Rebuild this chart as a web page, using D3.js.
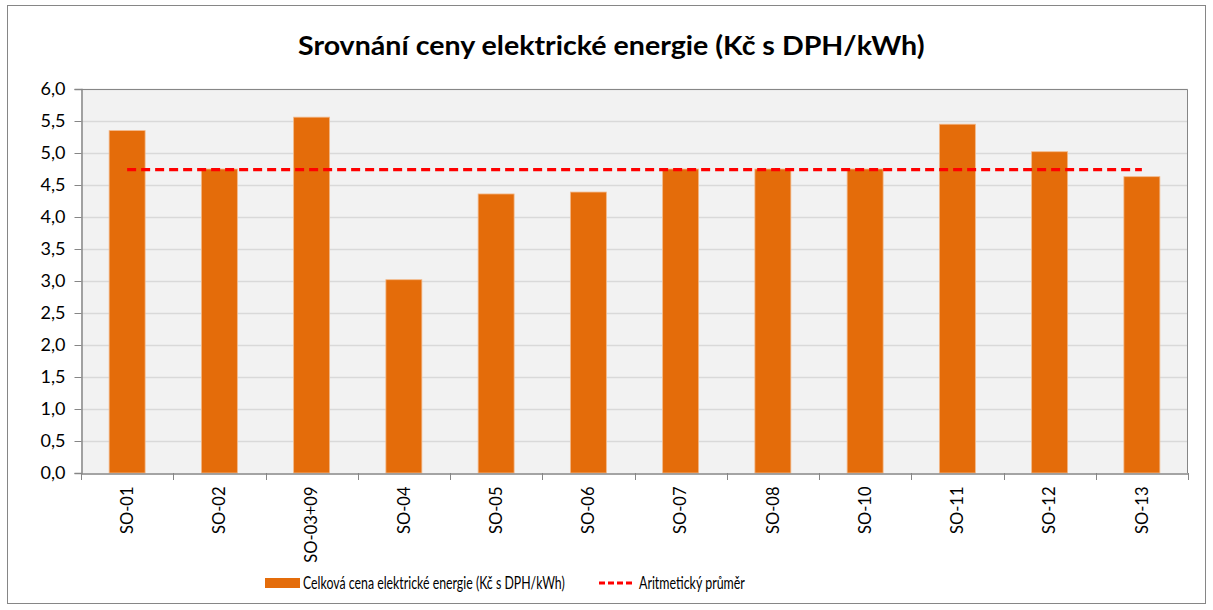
<!DOCTYPE html>
<html>
<head>
<meta charset="utf-8">
<script src="https://cdn.jsdelivr.net/npm/d3@7"></script>
<style>
  body { margin: 0; background: #fff; }
  text { font-family: Lato, "Open Sans", sans-serif; }
</style>
</head>
<body>
<script>
// Rozměry SVG
const w = 1213;
const h = 610;

// Data
const categories = ["SO-01", "SO-02", "SO-03+09", "SO-04", "SO-05", "SO-06",
  "SO-07", "SO-08", "SO-10", "SO-11", "SO-12", "SO-13"];
const prices = [5.35, 4.75, 5.56, 3.02, 4.36, 4.39, 4.75, 4.75, 4.75, 5.45, 5.02, 4.63];
const average = [4.74, 4.74, 4.74, 4.74, 4.74, 4.74, 4.74, 4.74, 4.74, 4.74, 4.74, 4.74];
const yTicks = [0, 0.5, 1, 1.5, 2, 2.5, 3, 3.5, 4, 4.5, 5, 5.5, 6];

const title = "Srovnání ceny elektrické energie (Kč s DPH/kWh)";
const seriesName = "Celková cena elektrické energie (Kč s DPH/kWh)";
const avgName = "Aritmetický průměr";

const barColor = "#e46c0a";
const axisColor = "#868686";

// Plocha grafu
const plot = { left: 81, right: 1188, top: 89, bottom: 473 };

const svg = d3.select("body").append("svg").attr("width", w).attr("height", h);

// Text zúžený na danou šířku (Calibri není k dispozici)
function narrowText(parent, x, y, width, str, size, weight) {
  const g = parent.append("g");
  const t = g.append("text")
    .attr("font-size", size + "px")
    .attr("font-weight", weight || "normal")
    .attr("fill", "#000")
    .text(str);
  const k = width / t.node().getComputedTextLength();
  g.attr("transform", "translate(" + x + "," + y + ") scale(" + k + ",1)");
  return g;
}

// Rámeček celého grafu
svg.append("rect")
  .attr("x", 7.5).attr("y", 5.5)
  .attr("width", w - 15).attr("height", h - 12)
  .attr("fill", "#fff").attr("stroke", "#868686").attr("stroke-width", 1);

// Titulek
narrowText(svg, 298, 55, 627, title, 27, "bold");

// Škály
const xScale = d3.scaleBand()
  .domain(categories)
  .range([plot.left, plot.right])
  .paddingInner(0.61)
  .paddingOuter(0.305);

const xBand = d3.scaleBand()
  .domain(categories)
  .range([plot.left, plot.right]);

const yScale = d3.scaleLinear()
  .domain([0, 6])
  .range([plot.bottom, plot.top]);

// Pozadí plochy
svg.append("rect")
  .attr("x", plot.left).attr("y", plot.top)
  .attr("width", plot.right - plot.left)
  .attr("height", plot.bottom - plot.top)
  .attr("fill", "#f2f2f2");

// Mřížka
svg.append("g")
  .selectAll("line")
  .data(yTicks.slice(1))
  .enter()
  .append("line")
  .attr("x1", plot.left).attr("x2", plot.right)
  .attr("y1", d => Math.round(yScale(d)) + 0.5)
  .attr("y2", d => Math.round(yScale(d)) + 0.5)
  .attr("stroke", "#d9d9d9")
  .attr("stroke-width", 1.3);

// Rámeček plochy (nahoře a vpravo)
svg.append("path")
  .attr("d", `M${plot.left},${plot.top + 0.5}H${plot.right - 0.5}V${plot.bottom}`)
  .attr("fill", "none")
  .attr("stroke", axisColor)
  .attr("stroke-width", 1);

// Sloupce
svg.append("g")
  .selectAll("rect")
  .data(prices)
  .enter()
  .append("rect")
  .attr("x", (d, i) => xScale(categories[i]))
  .attr("y", d => yScale(d))
  .attr("width", xScale.bandwidth())
  .attr("height", d => plot.bottom - yScale(d))
  .attr("fill", barColor)
  .attr("stroke", "#f3b98a")
  .attr("stroke-width", 0.8);

// Průměr
const line = d3.line()
  .x((d, i) => xBand(categories[i]) + xBand.bandwidth() / 2)
  .y(d => yScale(d));

svg.append("path")
  .datum(average)
  .attr("d", line)
  .attr("fill", "none")
  .attr("stroke", "#ff0000")
  .attr("stroke-width", 3.2)
  .attr("stroke-dasharray", "9,5");

// Osa y
const yAxis = d3.axisLeft(yScale)
  .tickValues(yTicks)
  .tickSize(7)
  .tickPadding(9)
  .tickFormat(d => d3.format(".1f")(d).replace(".", ","));

const gy = svg.append("g")
  .attr("transform", "translate(" + (plot.left + 0.5) + ",0)")
  .call(yAxis);
gy.select(".domain").attr("stroke", axisColor).attr("stroke-width", 1.5);
gy.selectAll(".tick line").attr("stroke", axisColor);
gy.selectAll(".tick text")
  .attr("font-size", "18px")
  .attr("fill", "#000")
  .attr("font-family", "Lato, sans-serif");

// Osa x
const xAxis = d3.axisBottom(xBand).tickSize(0).tickPadding(0);
const gx = svg.append("g")
  .attr("transform", "translate(0," + (plot.bottom + 0.5) + ")")
  .call(xAxis);
gx.select(".domain").attr("stroke", axisColor).attr("stroke-width", 1.5);
gx.selectAll(".tick text")
  .attr("transform", "rotate(-90)")
  .attr("x", -13)
  .attr("y", 0)
  .attr("dy", "0.35em")
  .attr("text-anchor", "end")
  .attr("font-size", "16.5px")
  .attr("font-family", "Lato, sans-serif")
  .attr("fill", "#000");

// Značky mezi kategoriemi
svg.append("g")
  .selectAll("line")
  .data(categories.concat(["end"]))
  .enter()
  .append("line")
  .attr("x1", (d, i) => Math.round(plot.left + i * xBand.step()) + 0.5)
  .attr("x2", (d, i) => Math.round(plot.left + i * xBand.step()) + 0.5)
  .attr("y1", plot.bottom)
  .attr("y2", plot.bottom + 7)
  .attr("stroke", axisColor);

// Legenda
const legend = svg.append("g");
legend.append("rect")
  .attr("x", 265).attr("y", 578)
  .attr("width", 35).attr("height", 10)
  .attr("fill", barColor);
narrowText(legend, 303, 589, 262, seriesName, 17.5);
legend.append("line")
  .attr("x1", 599).attr("x2", 634)
  .attr("y1", 583).attr("y2", 583)
  .attr("stroke", "#ff0000")
  .attr("stroke-width", 3)
  .attr("stroke-dasharray", "6,3");
narrowText(legend, 639, 589, 106, avgName, 17.5);
</script>
</body>
</html>
